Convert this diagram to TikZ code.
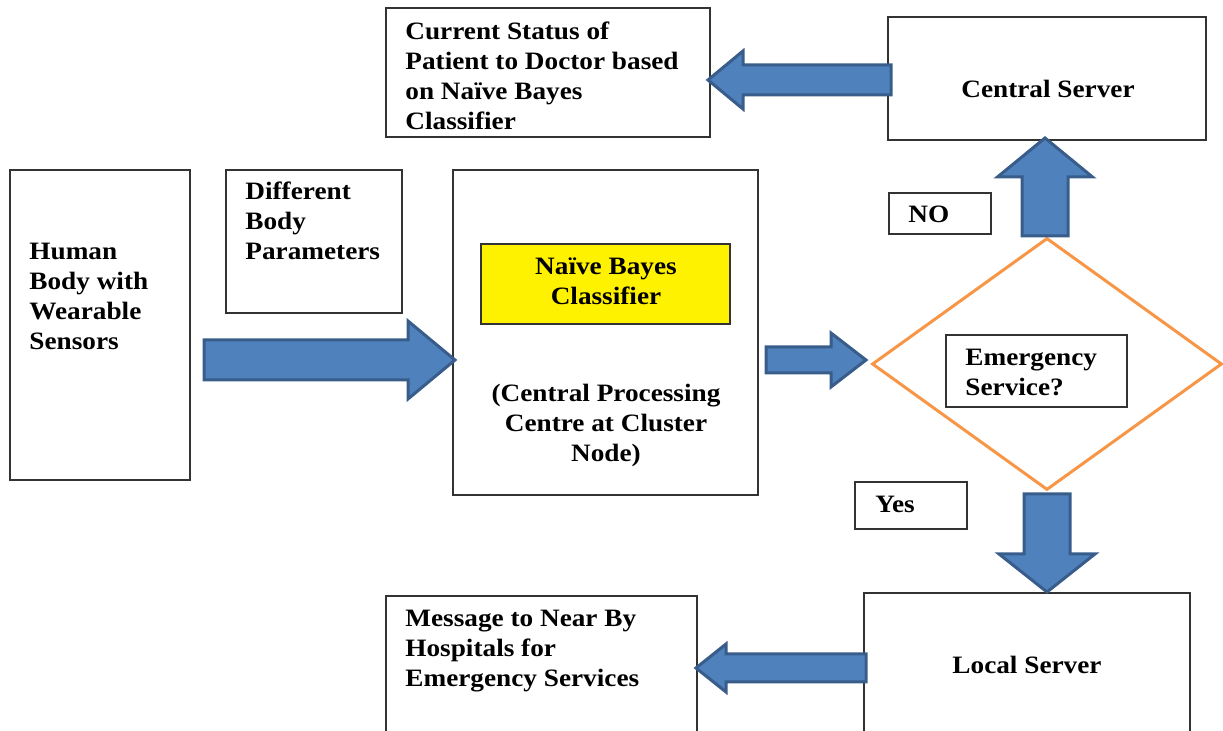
\documentclass[tikz,border=0pt]{standalone}
\usepackage{fontspec}
\setmainfont{Liberation Serif}[FakeStretch=1.09]
\usetikzlibrary{calc,fit,shapes.geometric}
\definecolor{arrfill}{HTML}{4F81BD}
\definecolor{arrline}{HTML}{385D8A}
\definecolor{diaorange}{HTML}{F79646}
\definecolor{boxline}{HTML}{333333}
\tikzset{
  box/.style={draw=boxline, line width=0.6pt, inner sep=0pt, rectangle},
  txt/.style={font=\fontsize{12.5pt}{15pt}\selectfont\bfseries, inner sep=0pt, align=left, anchor=west},
  ctxt/.style={font=\fontsize{12.5pt}{15pt}\selectfont\bfseries, inner sep=0pt, align=center},
  blockarrow/.style={draw=arrline, fill=arrfill, line width=1.5pt, line join=miter},
}
\newcommand{\blockarr}[5]{%
  \coordinate (#1-h) at ($(#2)!#5!(#1)$);
  \draw[blockarrow] ($(#1)!#3!90:(#2)$) -- ($(#1-h)!#3!90:(#2)$) -- ($(#1-h)!#4!90:(#2)$)
    -- (#2) -- ($(#1-h)!#4!-90:(#2)$) -- ($(#1-h)!#3!-90:(#2)$) -- ($(#1)!#3!-90:(#2)$) -- cycle;
}
\begin{document}
\begin{tikzpicture}[x=0.5pt,y=-0.5pt]
\useasboundingbox (0,0) rectangle (1223,731);
% boxes
\node[box, fit={(386,8)(710,137)}] (status) {};
\node[box, fit={(888,17)(1206,140)}] (central) {};
\node[box, fit={(10,170)(190,480)}] (human) {};
\node[box, fit={(226,170)(402,313)}] (params) {};
\node[box, fit={(453,170)(758,495)}] (cpc) {};
\node[box, fill=yellow, fit={(481,244)(730,324)}] (nb) {};
\node[box, fit={(889,193)(991,234)}] (no) {};
\node[diamond, draw=diaorange, line width=1.5pt, minimum width=175pt, minimum height=126pt, inner sep=0pt] (dec) at (1047,364) {};
\node[box, fit={(946,335)(1127,407)}] (emg) {};
\node[box, fit={(855,482)(967,529)}] (yes) {};
\node[box, fit={(864,593)(1190,760)}] (local) {};
\node[box, fit={(386,596)(697,760)}] (msg) {};
% texts
\node[txt] (t-status) at (405,75.5) {Current Status of\\Patient to Doctor based\\on Naïve Bayes\\Classifier};
\node[ctxt] (t-central) at (1048,89) {Central Server};
\node[txt] (t-human) at (29,296) {Human\\Body with\\Wearable\\Sensors};
\node[txt] (t-params) at (245,221) {Different\\Body\\Parameters};
\node[ctxt] (t-nb) at (606,281) {Naïve Bayes\\Classifier};
\node[ctxt] (t-cpc) at (606,425) {(Central Processing\\Centre at Cluster\\Node)};
\node[txt] (t-emg) at (965,372) {Emergency\\Service?};
\node[txt] (t-no) at (908,214) {NO};
\node[txt] (t-yes) at (875,504) {Yes};
\node[ctxt] (t-local) at (1027,665) {Local Server};
\node[txt] (t-msg) at (405,651) {Message to Near By\\Hospitals for\\Emergency Services};
% arrows
\coordinate (a1s) at (204,360); \coordinate (a1e) at (455,360);
\coordinate (a2s) at (766,360); \coordinate (a2e) at (866,360);
\coordinate (a3s) at (1045,236); \coordinate (a3e) at (1045,138);
\coordinate (a4s) at (1047,494); \coordinate (a4e) at (1047,592);
\coordinate (a5s) at (891,80); \coordinate (a5e) at (708,80);
\coordinate (a6s) at (866,668); \coordinate (a6e) at (696,668);
\blockarr{a1s}{a1e}{10pt}{19.5pt}{23.5pt}
\blockarr{a2s}{a2e}{6.5pt}{13.5pt}{17.5pt}
\blockarr{a3s}{a3e}{11.5pt}{23.75pt}{19.5pt}
\blockarr{a4s}{a4e}{11.5pt}{24pt}{19pt}
\blockarr{a5s}{a5e}{7.5pt}{14.5pt}{17.5pt}
\blockarr{a6s}{a6e}{7pt}{12pt}{15pt}
\end{tikzpicture}
\end{document}
